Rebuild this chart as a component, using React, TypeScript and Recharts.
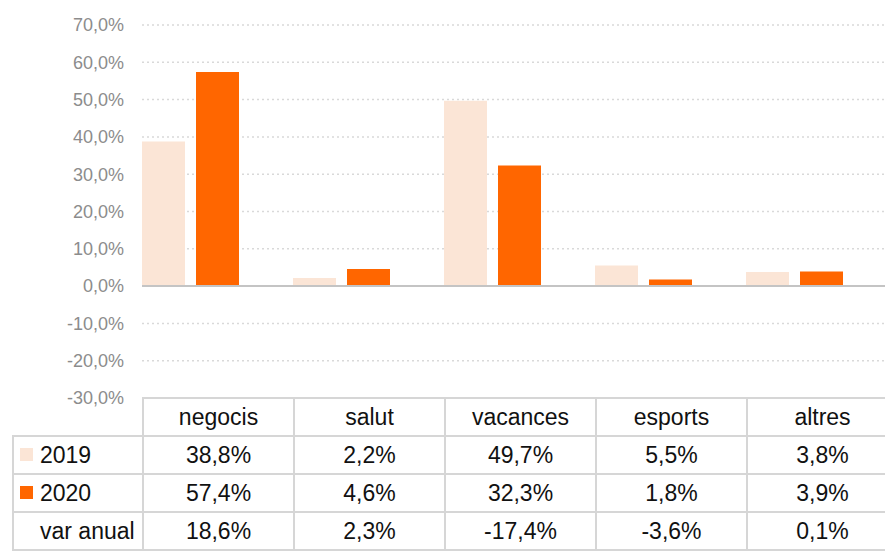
import React from 'react'
import { BarChart, Bar, XAxis, YAxis, CartesianGrid, ReferenceLine } from 'recharts'

const categories = ['negocis', 'salut', 'vacances', 'esports', 'altres']
const values2019 = [38.8, 2.2, 49.7, 5.5, 3.8]
const values2020 = [57.4, 4.6, 32.3, 1.8, 3.9]
const varAnual = [18.6, 2.3, -17.4, -3.6, 0.1]
const yTicks = [-30, -20, -10, 0, 10, 20, 30, 40, 50, 60, 70]

const C2019 = '#fbe5d6'
const C2020 = '#ff6600'
const BORDER = '2px solid #d6d6d6'

const fmt = (v: number) => v.toFixed(1).replace('.', ',') + '%'

const data = categories.map((name, i) => ({
  name,
  y2019: values2019[i],
  y2020: values2020[i],
  var: varAnual[i],
}))

const COL_W = 151
const FIRST_W = 130

export default function App() {
  const cell: React.CSSProperties = {
    border: BORDER,
    height: 36,
    padding: 0,
    textAlign: 'center',
    verticalAlign: 'middle',
  }
  const rowHead: React.CSSProperties = {
    ...cell,
    textAlign: 'left',
    paddingLeft: 6,
    whiteSpace: 'nowrap',
  }
  const key = (color: string) => (
    <span style={{ display: 'inline-block', width: 13, height: 13, background: color, marginRight: 7, verticalAlign: 'middle', position: 'relative', top: -2 }} />
  )

  return (
    <div style={{ position: 'fixed', left: 0, top: 0, width: 885, height: 553, overflow: 'hidden', background: '#fff', fontFamily: '"Liberation Sans", Arial, sans-serif' }}>
      <div style={{ position: 'absolute', left: 0, top: 0 }}>
        <BarChart
          width={897}
          height={412}
          data={data}
          margin={{ top: 25, right: 0, left: 0, bottom: 14 }}
          barCategoryGap={0}
          barGap={11}
        >
          <CartesianGrid vertical={false} stroke="#d9d9d9" strokeDasharray="2 3" strokeWidth={1.5} />
          <XAxis dataKey="name" hide />
          <YAxis
            domain={[-30, 70]}
            ticks={yTicks}
            interval={0}
            axisLine={false}
            tickLine={false}
            width={142}
            tickMargin={12}
            tickFormatter={fmt}
            tick={{ fill: '#8c8c8c', fontSize: 18, fontFamily: '"Liberation Sans", Arial, sans-serif' }}
          />
          <ReferenceLine y={0} stroke="#c4c4c4" strokeWidth={2} />
          <Bar dataKey="y2019" fill={C2019} isAnimationActive={false} />
          <Bar dataKey="y2020" fill={C2020} isAnimationActive={false} />
          <Bar dataKey="var" fill="#ffffff" fillOpacity={0} isAnimationActive={false} />
        </BarChart>
      </div>
      <table
        style={{
          position: 'absolute',
          left: 12,
          top: 397,
          borderCollapse: 'collapse',
          tableLayout: 'fixed',
          width: FIRST_W + COL_W * 5,
          fontSize: 23,
          color: '#111',
        }}
      >
        <colgroup>
          <col style={{ width: FIRST_W }} />
          {categories.map((c) => <col key={c} style={{ width: COL_W }} />)}
        </colgroup>
        <tbody>
          <tr>
            <td style={{ ...cell, border: 'none' }} />
            {categories.map((c) => <td key={c} style={{ ...cell, background: '#fff' }}>{c}</td>)}
          </tr>
          <tr>
            <td style={rowHead}>{key(C2019)}2019</td>
            {values2019.map((v, i) => <td key={i} style={cell}>{fmt(v)}</td>)}
          </tr>
          <tr>
            <td style={rowHead}>{key(C2020)}2020</td>
            {values2020.map((v, i) => <td key={i} style={cell}>{fmt(v)}</td>)}
          </tr>
          <tr>
            <td style={{ ...rowHead, paddingLeft: 26 }}>var anual</td>
            {varAnual.map((v, i) => <td key={i} style={cell}>{fmt(v)}</td>)}
          </tr>
        </tbody>
      </table>
    </div>
  )
}
